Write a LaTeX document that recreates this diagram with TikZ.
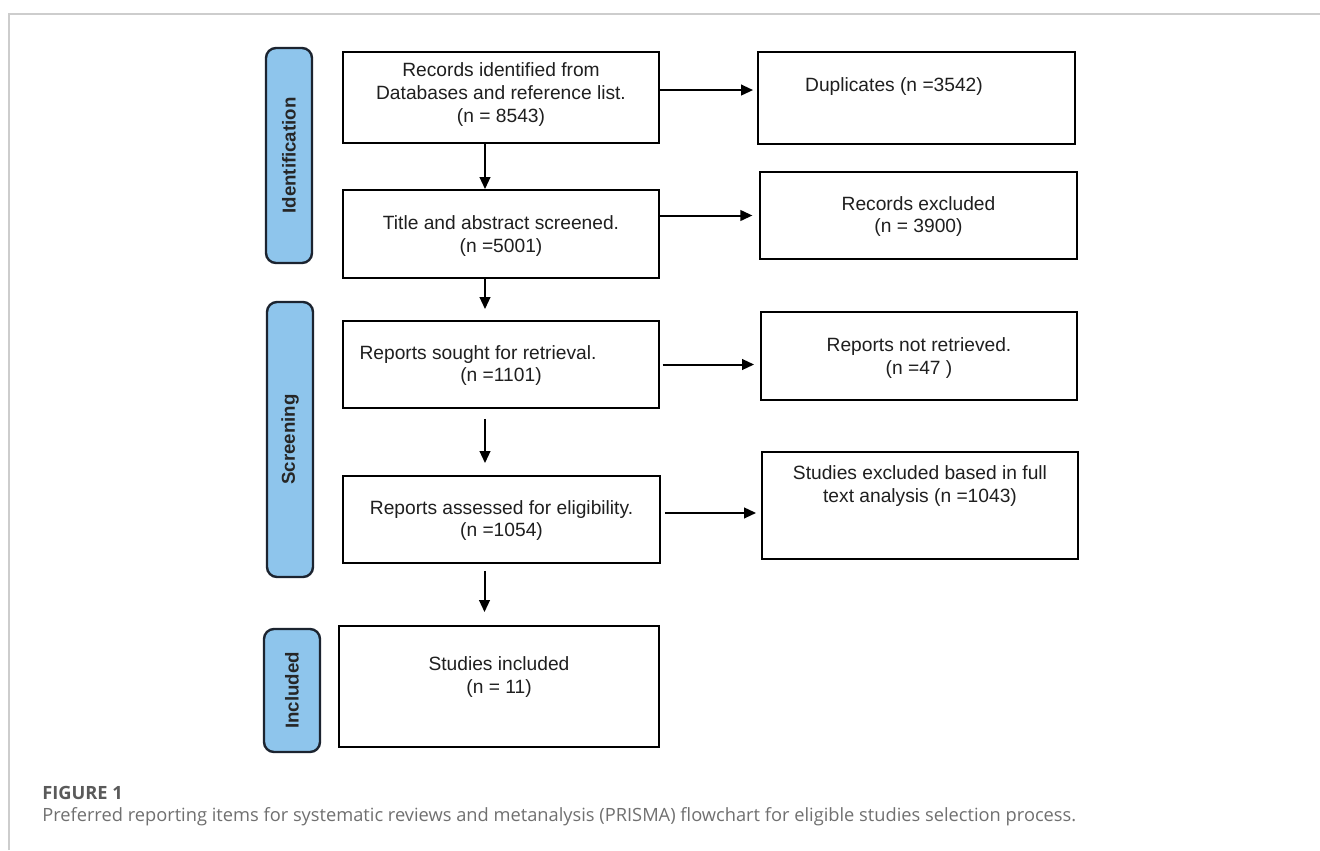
\documentclass[tikz,border=0pt]{standalone}
\usepackage{fontspec}
\setmainfont{Liberation Sans}
\newfontfamily\capfont{Open Sans}
\usetikzlibrary{arrows.meta,calc}
\definecolor{pillblue}{RGB}{142,197,236}
\definecolor{pillline}{RGB}{28,36,48}
\definecolor{framegray}{RGB}{205,205,205}
\definecolor{figgray}{RGB}{90,90,90}
\definecolor{capgray}{RGB}{112,112,112}
\tikzset{
  flowbox/.style={draw=black, line width=1.4pt, fill=white, inner sep=0pt},
  pill/.style={draw=pillline, line width=1.8pt, fill=pillblue, rounded corners=7.5pt, inner sep=0pt},
  pilltext/.style={font=\fontsize{14pt}{16pt}\selectfont\bfseries, text=black!85, rotate=90},
  boxtext/.style={font=\fontsize{14.4pt}{16.9pt}\selectfont, align=center, text=black!88},
  flowarrow/.style={line width=1.5pt, -{Triangle[length=9pt,width=8pt]}},
}
\begin{document}
\begin{tikzpicture}[x=0.75pt,y=-0.75pt]
\useasboundingbox (0,0) rectangle (1320,850);
\fill[white] (0,0) rectangle (1320,850);
% frame
\draw[framegray, line width=1.1pt] (9,850) -- (9,14) -- (1320,14);

% phase pills
\node[pill, minimum width=34.5pt, minimum height=161.25pt] (pid) at (289,155.5) {};
\node[pilltext] (tid) at (pid.center) {Identification};
\node[pill, minimum width=34.5pt, minimum height=206.25pt] (psc) at (290,439.5) {};
\node[pilltext] (tsc) at (psc.center) {Screening};
\node[pill, minimum width=42pt, minimum height=92.25pt] (pin) at (292,690.5) {};
\node[pilltext] (tin) at (pin.center) {Included};

% main column boxes
\node[flowbox, minimum width=237pt, minimum height=68.25pt] (b1) at (501,97.5) {};
\node[flowbox, minimum width=237pt, minimum height=66pt] (b2) at (501,234) {};
\node[flowbox, minimum width=237pt, minimum height=65.25pt] (b3) at (501,364.5) {};
\node[flowbox, minimum width=237.75pt, minimum height=65.25pt] (b4) at (501.5,519.5) {};
\node[flowbox, minimum width=240pt, minimum height=90.75pt] (b5) at (499,686.5) {};

% right column boxes
\node[flowbox, minimum width=237.75pt, minimum height=69pt] (dup) at (916.5,98) {};
\node[flowbox, minimum width=237.75pt, minimum height=65.25pt] (rex) at (918.5,215.5) {};
\node[flowbox, minimum width=237pt, minimum height=66pt] (nr) at (919,356) {};
\node[flowbox, minimum width=237pt, minimum height=80.25pt] (ex) at (920,505.5) {};

% texts
\node[boxtext] (t1) at ($(b1.center)+(0,-3)$) {Records identified from\\Databases and reference list.\\(n = 8543)};
\node[boxtext] (t2) at ($(b2.center)+(0,2)$) {Title and abstract screened.\\(n =5001)};
\node[boxtext] (t3) at ($(b3.center)+(0,1)$) {Reports sought for retrieval.\hspace*{34.5pt}\\(n =1101)};
\node[boxtext] (t4) at ($(b4.center)+(0,1)$) {Reports assessed for eligibility.\\(n =1054)};
\node[boxtext] (t5) at ($(b5.center)+(0,-9.5)$) {Studies included\\(n = 11)};
\node[boxtext] (td) at ($(dup.center)+(-22.5,-11)$) {Duplicates (n =3542)};
\node[boxtext] (tr) at ($(rex.center)+(0,1)$) {Records excluded\\(n = 3900)};
\node[boxtext] (tn) at ($(nr.center)+(0,2)$) {Reports not retrieved.\\(n =47 )};
\node[boxtext] (te) at ($(ex.center)+(0,-19.5)$) {Studies excluded based in full\\text analysis (n =1043)};

% vertical arrows
\draw[flowarrow] ([xshift=-12pt]b1.south) -- ([xshift=-12pt]b2.north);
\draw[flowarrow, shorten >=8.25pt] ([xshift=-12pt]b2.south) -- ([xshift=-12pt]b2.south |- b3.north);
\draw[flowarrow, shorten <=7.5pt, shorten >=9pt] ([xshift=-12pt]b3.south) -- ([xshift=-12pt]b3.south |- b4.north);
\draw[flowarrow, shorten <=5.25pt, shorten >=9.75pt] ([xshift=-12.75pt]b4.south) -- ([xshift=-12.75pt]b4.south |- b5.north);

% horizontal arrows
\draw[flowarrow, shorten >=3pt] ([yshift=5.6pt]b1.east) -- ([yshift=5.6pt]b1.east -| dup.west);
\draw[flowarrow, shorten >=5pt] (b2.east |- rex.west) -- (rex.west);
\draw[flowarrow, shorten <=2pt, shorten >=4.5pt] (b3.east) -- (b3.east -| nr.west);
\draw[flowarrow, shorten <=3pt, shorten >=3.75pt] ([yshift=4.9pt]b4.east) -- ([yshift=4.9pt]b4.east -| ex.west);

% caption
\node[anchor=west, inner sep=0pt, font=\capfont\fontsize{13.7pt}{16pt}\selectfont\bfseries, text=figgray] (fig) at (42,793) {FIGURE 1};
\node[anchor=west, inner sep=0pt, font=\capfont\fontsize{13.7pt}{16pt}\selectfont, text=capgray] (cap) at (42,817) {Preferred reporting items for systematic reviews and metanalysis (PRISMA) flowchart for eligible studies selection process.};
\end{tikzpicture}
\end{document}
